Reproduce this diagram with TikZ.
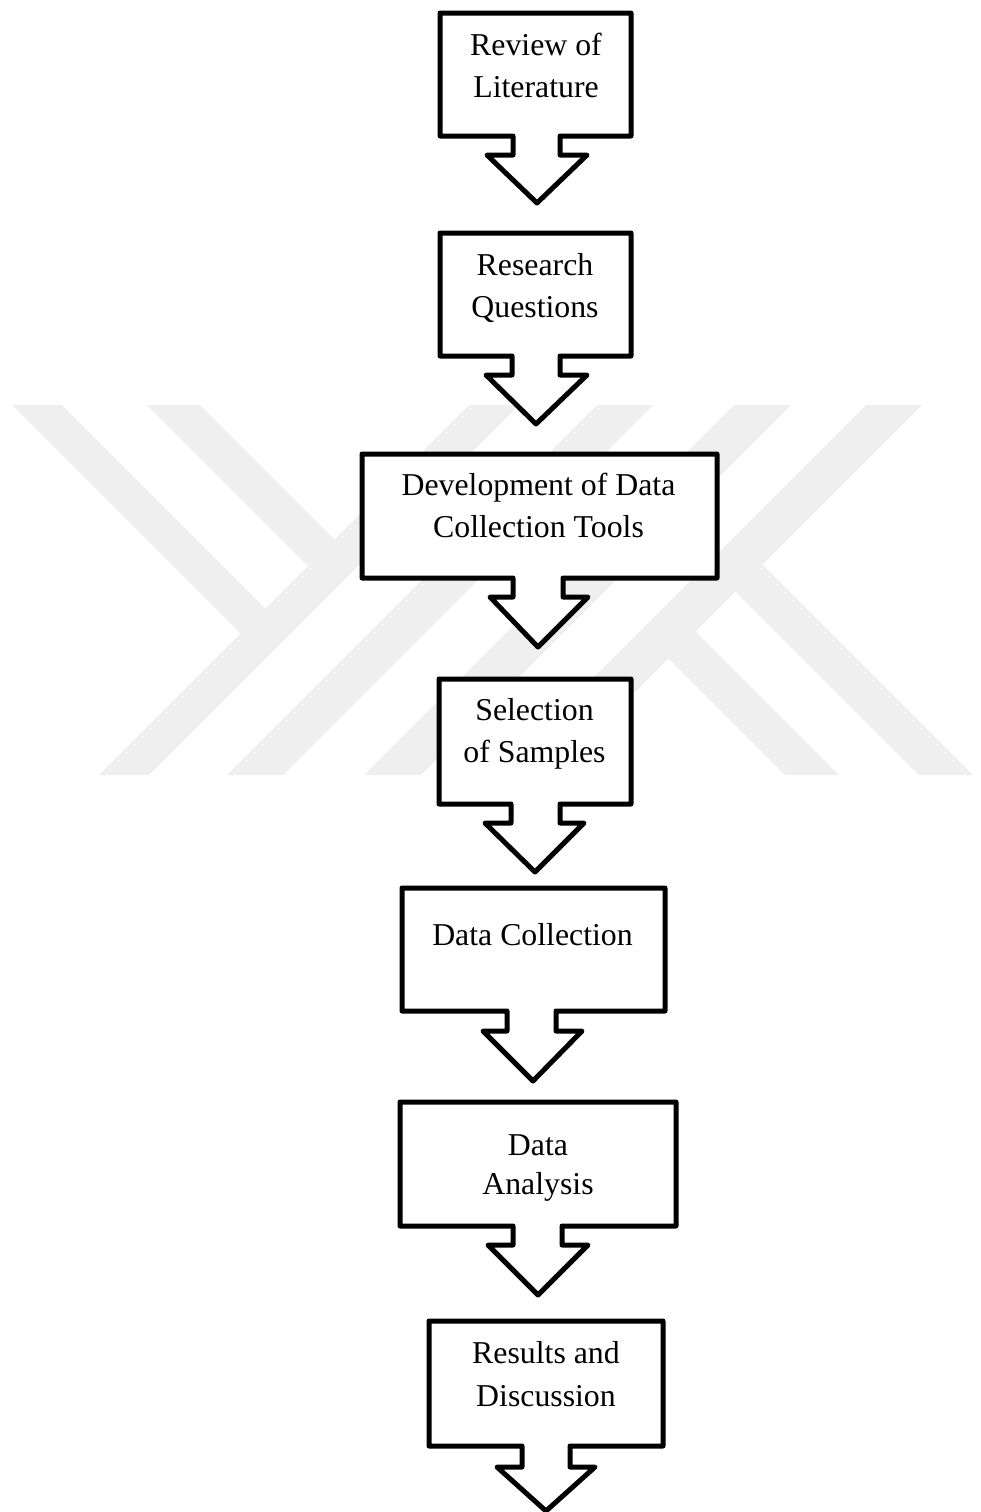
\documentclass[tikz,border=0pt]{standalone}
\usepackage{fontspec}
\setmainfont{Liberation Serif}
\definecolor{wmgray}{RGB}{239,239,239}
\newcommand\stacklines[1]{\begin{tabular}[t]{@{}c@{}}#1\end{tabular}}
\begin{document}
\begin{tikzpicture}[x=0.5pt,y=-0.5pt,
  callout/.style={draw=black, fill=white, line width=2.5pt, line join=round},
  wm/.style={fill=wmgray, draw=none},
  lbl/.style={anchor=base, inner sep=0pt, font=\fontsize{15.9}{21}\selectfont}]
\useasboundingbox (0,0) rectangle (981,1512);
% background watermark
\fill[wm] (12,405) -- (62,405) -- (290.5,633.5) -- (240.5,633.5) -- cycle;
\fill[wm] (147,405) -- (200,405) -- (360.25,565.25) -- (307.25,565.25) -- cycle;
\fill[wm] (469,405) -- (519,405) -- (149,775) -- (99,775) -- cycle;
\fill[wm] (597,405) -- (653,405) -- (283,775) -- (227,775) -- cycle;
\fill[wm] (734,405) -- (791,405) -- (421,775) -- (364,775) -- cycle;
\fill[wm] (866,405) -- (922,405) -- (552,775) -- (496,775) -- cycle;
\fill[wm] (708,564) -- (762,564) -- (973,775) -- (919,775) -- cycle;
\fill[wm] (641,631) -- (695,631) -- (839,775) -- (785,775) -- cycle;
% callout boxes
\draw[callout] (440,13) -- (631,13) -- (631,136) -- (560,136) -- (560,155) -- (587,155) -- (537,203) -- (487,155) -- (513,155) -- (513,136) -- (440,136) -- cycle;
\draw[callout] (440,233) -- (631,233) -- (631,356) -- (560,356) -- (560,375) -- (587,375) -- (536,424) -- (486,375) -- (512,375) -- (512,356) -- (440,356) -- cycle;
\draw[callout] (362,454) -- (717,454) -- (717,578) -- (563,578) -- (563,597) -- (588,597) -- (538,647) -- (490,597) -- (513,597) -- (513,578) -- (362,578) -- cycle;
\draw[callout] (439,679) -- (631,679) -- (631,804) -- (560,804) -- (560,823) -- (584,823) -- (535,872) -- (485,823) -- (511,823) -- (511,804) -- (439,804) -- cycle;
\draw[callout] (402,888) -- (665,888) -- (665,1011) -- (556,1011) -- (556,1031) -- (582,1031) -- (533,1081) -- (483,1031) -- (507,1031) -- (507,1011) -- (402,1011) -- cycle;
\draw[callout] (400,1102) -- (676,1102) -- (676,1226) -- (562,1226) -- (562,1245) -- (588,1245) -- (538,1295) -- (488,1245) -- (513,1245) -- (513,1226) -- (400,1226) -- cycle;
\draw[callout] (429,1321) -- (663,1321) -- (663,1446) -- (570,1446) -- (570,1467) -- (595,1467) -- (546,1511) -- (497,1467) -- (522,1467) -- (522,1446) -- (429,1446) -- cycle;
% labels
\node[lbl] (review) at (536,55) {\stacklines{Review of\\Literature}};
\node[lbl] (research) at (535,275) {\stacklines{Research\\Questions}};
\node[lbl] (develop) at (538.5,495) {\stacklines{Development of Data\\Collection Tools}};
\node[lbl] (select) at (534.5,720) {\stacklines{Selection\\of Samples}};
\node[lbl] (collect) at (532.5,945) {Data Collection};
\node[lbl, font=\fontsize{15.9}{19.5}\selectfont] (analysis) at (538,1155) {\stacklines{Data\\Analysis}};
\node[lbl, font=\fontsize{15.9}{21.5}\selectfont] (results) at (546,1363) {\stacklines{Results and\\Discussion}};
\end{tikzpicture}
\end{document}
